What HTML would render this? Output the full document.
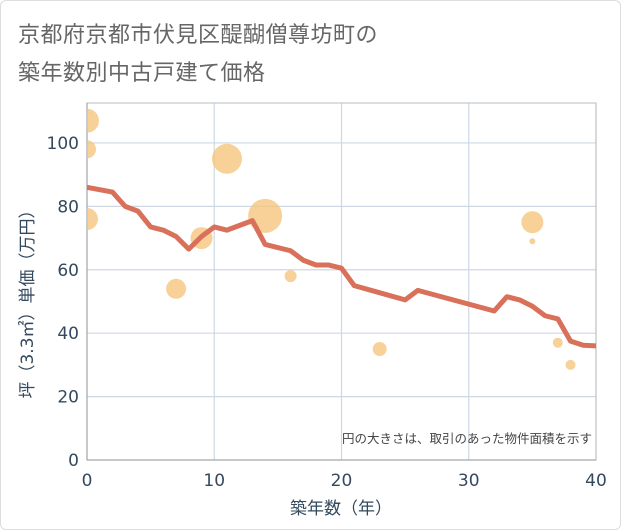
<!DOCTYPE html>
<html><head><meta charset="utf-8"><style>
body{margin:0;background:#fff;font-family:"Liberation Sans","Noto Sans CJK JP",sans-serif;}
#wrap{position:relative;width:619px;height:528px;border:1px solid #ddd;border-radius:6px;overflow:hidden;background:#fff}
.t{position:absolute;left:17px;font-size:22px;color:#666;letter-spacing:0.5px}
</style></head><body>
<div id="wrap">
<div class="t" style="top:16px">京都府京都市伏見区醍醐僧尊坊町の</div>
<div class="t" style="top:54px">築年数別中古戸建て価格</div>
<svg id="c" width="621" height="530" style="position:absolute;left:-1px;top:-1px">
<defs><clipPath id="pc"><rect x="87" y="103" width="509" height="357"/></clipPath></defs>
<g id="marks" clip-path="url(#pc)"></g>
</svg>
</div>
<script>
const lineYears=[0,2,3,4,5,6,7,8,9,10,11,13,14,16,17,18,19,20,21,25,26,32,33,34,35,36,37,38,39,40];
const lineValues=[86,84.5,80,78.5,73.5,72.5,70.5,66.5,70.5,73.5,72.5,75.5,68,66,63,61.5,61.5,60.5,55,50.5,53.5,47,51.5,50.5,48.5,45.5,44.5,37.5,36.2,36];
const bubbleYears=[0,0,0,7,9,11,14,16,23,35,35,37,38];
const bubbleValues=[107,98,76,54,70,95,77,58,35,75,69,37,30];
const bubbleSizes=[12,9,11,10,11,15,17,6,7,11,3,5,5];
const xTicks=[0,10,20,30,40];
const yTicks=[0,20,40,60,80,100];
const NS="http://www.w3.org/2000/svg";
const svg=document.getElementById('c');
const marks=document.getElementById('marks');
const X0=87,X1=596,Y0=460,YT=103;
const xs=v=>X0+(X1-X0)*v/40;
const ys=v=>Y0-(Y0-YT)*v/112.6;
const TF='"DejaVu Sans","Noto Sans CJK JP",sans-serif';
function mk(t,a,p){const e=document.createElementNS(NS,t);for(const k in a)e.setAttribute(k,a[k]);(p||svg).insertBefore(e,p?null:marks);return e;}
let e;
yTicks.forEach(v=>{
 e=mk('line',{x1:X0,x2:X1,y1:ys(v),y2:ys(v),stroke:'#cdd8e4','stroke-width':1.2});
 
 
 e=mk('text',{x:X0-8,y:ys(v)+6,'text-anchor':'end','font-size':17,fill:'#34495e','font-family':TF});e.textContent=v;
 
 
});
xTicks.forEach(v=>{
 e=mk('line',{x1:xs(v),x2:xs(v),y1:YT,y2:Y0,stroke:'#cdd8e4','stroke-width':1.2});
 
 
 e=mk('text',{x:xs(v),y:Y0+26,'text-anchor':'middle','font-size':17,fill:'#34495e','font-family':TF});e.textContent=v;
 
 
});
e=mk('rect',{x:X0,y:YT,width:X1-X0,height:Y0-YT,fill:'none',stroke:'#bbb'});


e=mk('line',{x1:X0,x2:X0,y1:YT,y2:Y0,stroke:'#999'});


e=mk('line',{x1:X0,x2:X1,y1:Y0,y2:Y0,stroke:'#999'});


bubbleYears.forEach((y,i)=>{
 e=mk('circle',{cx:xs(y),cy:ys(bubbleValues[i]),r:bubbleSizes[i],fill:'#f5c57e','fill-opacity':0.8},marks);
 
 
});
e=mk('polyline',{points:lineYears.map((y,i)=>xs(y)+','+ys(lineValues[i])).join(' '),fill:'none',stroke:'#d9705a','stroke-width':5,'stroke-linejoin':'round'},marks);


e=mk('text',{x:X1-4,y:Y0-17,'text-anchor':'end','font-size':12.5,fill:'#444','font-family':TF});e.textContent='円の大きさは、取引のあった物件面積を示す';


e=mk('text',{x:341,y:514,'text-anchor':'middle','font-size':17,fill:'#34495e','font-family':TF});e.textContent='築年数（年）';


e=mk('text',{x:0,y:0,'text-anchor':'middle','font-size':17,fill:'#34495e','font-family':TF,transform:'translate(33,300) rotate(-90)'});e.textContent='坪（3.3㎡）単価（万円）';


</script>
</body></html>
